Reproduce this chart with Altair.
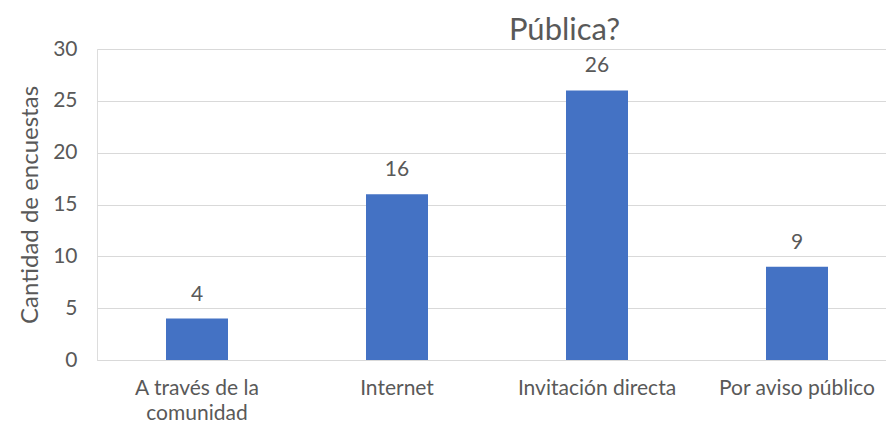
import altair as alt
import pandas as pd

categories = ["A través de la comunidad", "Internet", "Invitación directa", "Por aviso público"]
values = [4, 16, 26, 9]
title_text = "Pública?"
y_title = "Cantidad de encuestas"

df = pd.DataFrame({"cat": categories, "val": values})

FONT = "Lato"
GRAY = "#595959"
LBL = 21

base = alt.Chart(df).encode(
    x=alt.X(
        "cat:N",
        sort=categories,
        title=None,
        scale=alt.Scale(paddingInner=0.69, paddingOuter=0.345, range=[0, 800]),
        axis=alt.Axis(
            labelAngle=0,
            labelFontSize=LBL,
            labelColor=GRAY,
            labelFont=FONT,
            labelPadding=17,
            labelLineHeight=25,
            ticks=False,
            domainColor="#d9d9d9",
            domainWidth=1,
            labelExpr="datum.value == 'A través de la comunidad' ? ['A través de la', 'comunidad'] : datum.value",
        ),
    ),
    y=alt.Y(
        "val:Q",
        title=y_title,
        scale=alt.Scale(domain=[0, 30]),
        axis=alt.Axis(
            values=[0, 5, 10, 15, 20, 25, 30],
            labelFontSize=LBL,
            labelColor=GRAY,
            labelFont=FONT,
            labelPadding=20,
            ticks=False,
            domain=False,
            gridColor="#d9d9d9",
            titleFontSize=24,
            titleFont=FONT,
            titleColor=GRAY,
            titleFontWeight="normal",
            titlePadding=10,
        ),
    ),
)

bars = base.mark_bar(color="#4472c4")
text = base.mark_text(dy=-24, fontSize=LBL, font=FONT, color=GRAY).encode(text="val:Q")

chart = (
    (bars + text)
    .properties(
        width=789,
        height=311,
        title=alt.TitleParams(
            title_text,
            fontSize=31,
            font=FONT,
            color=GRAY,
            fontWeight="normal",
            dx=73,
            dy=9,
            offset=0,
        ),
        autosize=alt.AutoSizeParams(type="none"),
        padding={"left": 89, "top": 41, "right": 0, "bottom": 63},
    )
    .configure_view(stroke=None)
    .configure(background="white")
)

chart.save("out.html", embed_options={"renderer": "svg", "actions": False})
